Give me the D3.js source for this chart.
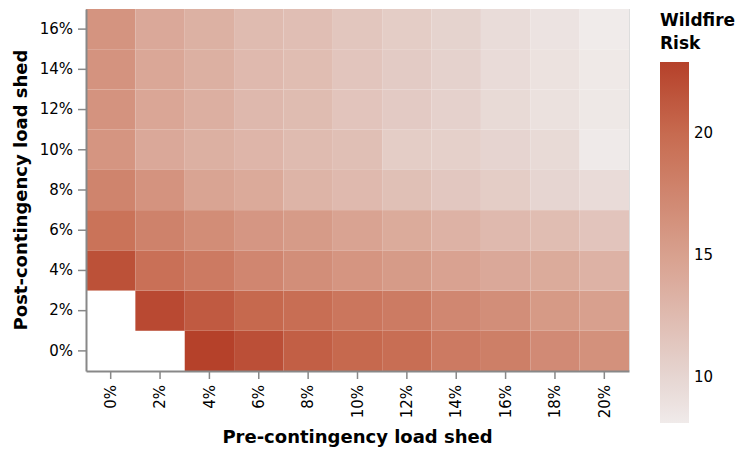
<!DOCTYPE html>
<html>
<head>
<meta charset="utf-8">
<script src="https://cdn.jsdelivr.net/npm/d3@7"></script>
<style>
  html, body { margin: 0; padding: 0; background: #fff; }
  svg { display: block; }
  text { font-family: "DejaVu Sans", Verdana, sans-serif; fill: #000; }
</style>
</head>
<body>
<svg id="chart" width="747" height="456"></svg>
<script>
// ---- data ----
const preLabels = ["0%", "2%", "4%", "6%", "8%", "10%", "12%", "14%", "16%", "18%", "20%"];
const postLabels = ["0%", "2%", "4%", "6%", "8%", "10%", "12%", "14%", "16%"];

// wildfire risk per post-contingency row, values along pre-contingency columns
const riskPost0  = [null, null, 22.9, 21.9, 20.8, 20.1, 19.6, 18.5, 18.1, 17.0, 16.4];
const riskPost2  = [null, 22.3, 21.1, 20.1, 19.6, 18.9, 18.4, 17.3, 16.7, 15.6, 15.0];
const riskPost4  = [21.8, 19.4, 18.5, 17.4, 16.7, 16.0, 15.5, 14.8, 14.2, 14.0, 13.3];
const riskPost6  = [19.2, 17.8, 16.8, 15.9, 15.5, 14.7, 14.0, 13.3, 12.6, 12.3, 11.6];
const riskPost8  = [17.6, 16.2, 14.6, 14.1, 13.1, 12.6, 12.0, 11.3, 10.8, 10.0, 9.5];
const riskPost10 = [16.0, 14.2, 13.5, 13.0, 12.5, 12.1, 10.8, 10.5, 10.1, 9.6, 8.2];
const riskPost12 = [16.2, 14.4, 13.6, 12.7, 12.4, 11.6, 11.0, 10.4, 9.6, 9.0, 8.4];
const riskPost14 = [16.2, 14.3, 13.5, 12.6, 12.3, 11.5, 10.9, 10.3, 9.5, 8.9, 8.3];
const riskPost16 = [16.1, 14.2, 13.4, 12.5, 12.2, 11.4, 10.8, 10.2, 9.4, 8.8, 8.1];
const riskRows = [riskPost0, riskPost2, riskPost4, riskPost6, riskPost8,
                  riskPost10, riskPost12, riskPost14, riskPost16];

const legendTicks = [10, 15, 20];

// colour ramp stops (light to dark)
const rampColors = ["#f0ebea", "#e6d5d1", "#d8a08e", "#c76a4f", "#b5412a"];

// ---- build cells ----
const cells = [];
riskRows.forEach((row, ri) => {
  row.forEach((v, ci) => {
    if (v !== null) cells.push({ pre: preLabels[ci], post: postLabels[ri], risk: v });
  });
});

// ---- layout ----
const svg = d3.select("#chart");
const plot = { left: 86, right: 629, top: 9, bottom: 371 };

const x = d3.scaleBand().domain(preLabels).range([plot.left, plot.right]).padding(0);
const y = d3.scaleBand().domain(postLabels.slice().reverse()).range([plot.top, plot.bottom]).padding(0);

const ext = d3.extent(cells, d => d.risk);
const color = d3.scaleLinear()
  .domain([ext[0], legendTicks[0], legendTicks[1], legendTicks[2], ext[1]])
  .range(rampColors)
  .interpolate(d3.interpolateRgb);

// cells
svg.append("g").selectAll("rect").data(cells).join("rect")
  .attr("x", d => x(d.pre))
  .attr("y", d => y(d.post))
  .attr("width", x.bandwidth())
  .attr("height", y.bandwidth())
  .attr("fill", d => color(d.risk));

// view border (right edge)
svg.append("line")
  .attr("x1", plot.right + 0.5).attr("x2", plot.right + 0.5)
  .attr("y1", plot.top).attr("y2", plot.bottom)
  .attr("stroke", "#ddd");

// axes
const axisColor = "#888";
const xAxis = svg.append("g")
  .attr("transform", `translate(0,${plot.bottom})`)
  .call(d3.axisBottom(x).tickSize(8).tickSizeOuter(0).tickPadding(0));
xAxis.selectAll("text")
  .attr("transform", "rotate(-90)")
  .attr("x", -14).attr("y", 0).attr("dy", "0.35em")
  .style("text-anchor", "end")
  .style("font-size", "15px");

const yAxis = svg.append("g")
  .attr("transform", `translate(${plot.left},0)`)
  .call(d3.axisLeft(y).tickSize(8).tickSizeOuter(0).tickPadding(5));
yAxis.selectAll("text").style("font-size", "15px");

[xAxis, yAxis].forEach(g => {
  g.select(".domain").attr("stroke", axisColor).attr("stroke-width", 2);
  g.selectAll(".tick line").attr("stroke", axisColor).attr("stroke-width", 1.5);
  g.selectAll("text").attr("fill", "#000").style("font-family", "DejaVu Sans, Verdana, sans-serif");
});

// axis titles
svg.append("text")
  .attr("x", (plot.left + plot.right) / 2).attr("y", 443)
  .attr("text-anchor", "middle")
  .style("font-size", "18px").style("font-weight", "bold")
  .text("Pre-contingency load shed");

svg.append("text")
  .attr("transform", `translate(27,${(plot.top + plot.bottom) / 2}) rotate(-90)`)
  .attr("text-anchor", "middle")
  .style("font-size", "18px").style("font-weight", "bold")
  .text("Post-contingency load shed");

// legend
const lg = { x: 660, top: 62, bottom: 423, w: 29 };
const defs = svg.append("defs");
const grad = defs.append("linearGradient").attr("id", "lgrad")
  .attr("x1", 0).attr("y1", 1).attr("x2", 0).attr("y2", 0);
d3.range(0, 1.0001, 0.05).forEach(t => {
  grad.append("stop").attr("offset", t)
    .attr("stop-color", color(ext[0] + t * (ext[1] - ext[0])));
});
svg.append("rect")
  .attr("x", lg.x).attr("y", lg.top)
  .attr("width", lg.w).attr("height", lg.bottom - lg.top)
  .attr("fill", "url(#lgrad)");

const ly = d3.scaleLinear().domain(ext).range([lg.bottom, lg.top]);
svg.append("g").selectAll("text").data(legendTicks).join("text")
  .attr("x", lg.x + lg.w + 5)
  .attr("y", d => ly(d))
  .attr("dy", "0.35em")
  .style("font-size", "15px")
  .text(d => d);

const lt = svg.append("text").attr("x", lg.x).attr("y", 26)
  .style("font-size", "17px").style("font-weight", "bold");
lt.append("tspan").attr("x", lg.x).attr("y", 26).text("Wildfire");
lt.append("tspan").attr("x", lg.x).attr("y", 49).text("Risk");
</script>
</body>
</html>
